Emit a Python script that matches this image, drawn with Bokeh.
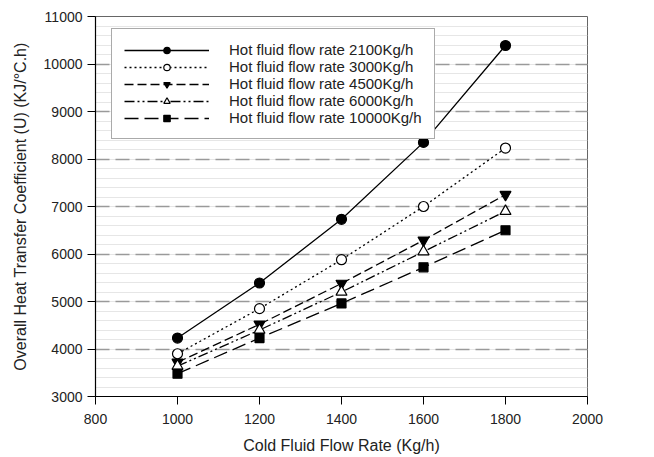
from bokeh.plotting import figure
from bokeh.models import Legend, LegendItem, Range1d, SingleIntervalTicker
from bokeh.embed import file_html
from bokeh.resources import INLINE

cold_flow = [1000, 1200, 1400, 1600, 1800]
u_2100 = [4230, 5390, 6730, 8350, 10390]
u_3000 = [3900, 4850, 5880, 7000, 8230]
u_4500 = [3720, 4520, 5380, 6290, 7250]
u_6000 = [3640, 4400, 5200, 6050, 6900]
u_10000 = [3480, 4230, 4960, 5720, 6500]

series = [
    ("Hot fluid flow rate 2100Kg/h", u_2100, "circle", "black", "solid"),
    ("Hot fluid flow rate 3000Kg/h", u_3000, "circle", "white", "2 3"),
    ("Hot fluid flow rate 4500Kg/h", u_4500, "inverted_triangle", "black", "9 4"),
    ("Hot fluid flow rate 6000Kg/h", u_6000, "triangle", "white", "10 3 2 3 2 3"),
    ("Hot fluid flow rate 10000Kg/h", u_10000, "square", "black", "14 6"),
]
sizes = {"circle": 10, "inverted_triangle": 11, "triangle": 11, "square": 9}

FONT = "Liberation Sans"

p = figure(width=640, height=457, output_backend="svg", toolbar_location=None,
           x_range=Range1d(800, 2000), y_range=Range1d(3000, 11000),
           min_border_left=95, min_border_right=53, min_border_top=16, min_border_bottom=61)

p.background_fill_color = "white"
p.border_fill_color = "white"
p.outline_line_color = "#666666"
p.outline_line_width = 1

p.xaxis.ticker = SingleIntervalTicker(interval=200, num_minor_ticks=0)
p.yaxis.ticker = SingleIntervalTicker(interval=1000, num_minor_ticks=5)
p.xgrid.grid_line_color = None
p.ygrid.grid_line_color = "#9a9a9a"
p.ygrid.grid_line_dash = "14 6"
p.ygrid.grid_line_width = 1.3
p.ygrid.minor_grid_line_color = "#e6e6e6"
p.ygrid.minor_grid_line_width = 1

for ax in (p.xaxis[0], p.yaxis[0]):
    ax.axis_line_color = "black"
    ax.axis_line_width = 1.2
    ax.major_tick_line_color = "black"
    ax.major_tick_out = 8
    ax.major_tick_in = 0
    ax.minor_tick_line_color = None
    ax.major_label_text_font = FONT
    ax.major_label_text_font_size = "14px"
    ax.major_label_text_color = "#222222"
    ax.axis_label_text_font = FONT
    ax.axis_label_text_font_size = "16px"
    ax.axis_label_text_font_style = "normal"
    ax.axis_label_text_color = "#222222"

p.xaxis.axis_label = "Cold Fluid Flow Rate (Kg/h)"
p.yaxis.axis_label = "Overall Heat Transfer Coefficient (U) (KJ/\u00b0C.h)"
p.xaxis.major_label_standoff = 9
p.xaxis.axis_label_standoff = 10
p.yaxis.major_label_standoff = 5
p.yaxis.axis_label_standoff = 12

items = []
for label, vals, marker, fill, dash in series:
    l = p.line(cold_flow, vals, line_color="black", line_width=1.3, line_dash=dash)
    s = p.scatter(cold_flow, vals, marker=marker, size=sizes[marker],
                  fill_color=fill, line_color="black", line_width=1.2)
    items.append(LegendItem(label=label, renderers=[l, s]))

legend = Legend(items=items, location=(16, 257), margin=0, padding=12, spacing=0,
                glyph_width=85, glyph_height=16, label_height=16, label_standoff=20,
                label_text_font=FONT, label_text_font_size="15px",
                label_text_line_height=1.0,
                label_text_color="#222222", border_line_color="#555555",
                border_line_width=1, background_fill_alpha=1)
p.add_layout(legend)

open("out.html", "w").write(file_html(p, INLINE))
